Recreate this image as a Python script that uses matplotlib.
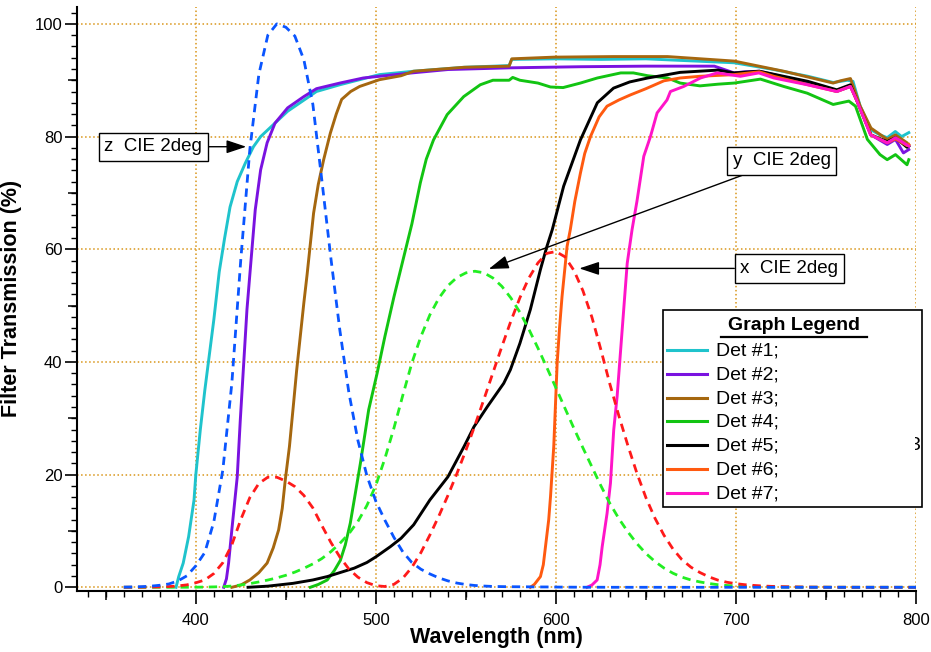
import numpy as np
import matplotlib
matplotlib.use("Agg")
import matplotlib.pyplot as plt
from matplotlib.lines import Line2D
from matplotlib.patches import Rectangle
from matplotlib.ticker import MultipleLocator, FixedLocator

plt.rcParams['font.family'] = ['Liberation Sans', 'DejaVu Sans']

# CIE 1931 2deg colour matching functions, scaled so z peak = 100
cie_wl = list(range(360, 805, 5))
cie_x = [0.01, 0.01, 0.02, 0.04, 0.08, 0.13, 0.24, 0.43, 0.80, 1.30,
         2.44, 4.36, 7.54, 12.05, 15.93, 18.43, 19.54, 19.53, 18.86, 17.88,
         16.31, 14.09, 10.96, 7.97, 5.37, 3.25, 1.80, 0.83, 0.28, 0.14,
         0.52, 1.63, 3.55, 6.15, 9.28, 12.66, 16.29, 20.18, 24.32, 28.73,
         33.35, 38.06, 42.75, 47.26, 51.40, 54.90, 57.57, 59.28, 59.59, 58.66,
         56.24, 52.64, 47.93, 42.15, 36.04, 30.40, 25.13, 20.24, 15.90, 12.27,
         9.25, 6.80, 4.90, 3.57, 2.62, 1.85, 1.27, 0.89, 0.64, 0.46,
         0.33, 0.23, 0.16, 0.12, 0.08, 0.06, 0.04, 0.03, 0.02, 0.01,
         0.01, 0.01, 0.0, 0.0, 0.0, 0.0, 0.0, 0.0, 0.0]
cie_y = [0.0, 0.0, 0.0, 0.0, 0.0, 0.0, 0.01, 0.01, 0.02, 0.04,
         0.07, 0.12, 0.22, 0.41, 0.65, 0.95, 1.29, 1.67, 2.13, 2.69,
         3.37, 4.15, 5.10, 6.32, 7.80, 9.50, 11.67, 14.51, 18.12, 22.85,
         28.22, 34.12, 39.83, 44.50, 48.36, 51.32, 53.52, 54.99, 55.81, 56.10,
         55.82, 54.90, 53.41, 51.35, 48.81, 45.79, 42.47, 38.98, 35.40, 31.80,
         28.22, 24.75, 21.37, 18.01, 14.87, 12.17, 9.82, 7.75, 6.00, 4.58,
         3.42, 2.50, 1.80, 1.30, 0.95, 0.67, 0.46, 0.32, 0.23, 0.16,
         0.12, 0.08, 0.06, 0.04, 0.03, 0.02, 0.01, 0.01, 0.01, 0.0,
         0.0, 0.0, 0.0, 0.0, 0.0, 0.0, 0.0, 0.0, 0.0]
cie_z = [0.03, 0.06, 0.11, 0.20, 0.36, 0.59, 1.12, 2.03, 3.81, 6.18,
         11.63, 20.83, 36.22, 58.29, 77.73, 91.04, 98.01, 100.0, 99.41, 97.84,
         93.64, 85.72, 72.23, 58.45, 45.61, 34.57, 26.10, 19.82, 15.26, 11.91,
         8.87, 6.27, 4.39, 3.21, 2.37, 1.67, 1.14, 0.75, 0.49, 0.32,
         0.22, 0.15, 0.12, 0.10, 0.09, 0.08, 0.06, 0.06, 0.04, 0.03,
         0.02, 0.01, 0.01, 0.01, 0.0, 0.0, 0.0, 0.0, 0.0, 0.0,
         0.0, 0.0, 0.0, 0.0, 0.0, 0.0, 0.0, 0.0, 0.0, 0.0,
         0.0, 0.0, 0.0, 0.0, 0.0, 0.0, 0.0, 0.0, 0.0, 0.0,
         0.0, 0.0, 0.0, 0.0, 0.0, 0.0, 0.0, 0.0, 0.0]

# detector filter transmission curves
det1_wl = [389, 390.5, 393, 396, 399, 400, 402.5, 405, 407, 410, 413, 416, 419, 423, 427.5,
           432, 436, 443, 451, 462, 467, 480, 491, 502, 521, 549, 574, 575.5, 600, 625,
           650, 671, 699, 721, 740, 754, 758, 762, 765, 769, 775, 780, 784, 788.5, 792, 796]
det1_t = [0, 1.9, 4.3, 9.0, 15.5, 20.0, 28.0, 35.0, 40.0, 47.5, 56.0, 62.0, 67.5, 72.0, 75.3,
          78.2, 80.0, 82.1, 84.5, 86.9, 88.0, 89.2, 90.1, 91.0, 91.6, 92.3, 92.6, 93.7, 93.8, 93.7,
          93.8, 93.5, 93.1, 91.9, 90.7, 89.6, 89.8, 90.0, 89.8, 85.4, 81.2, 80.3, 79.8, 80.9, 80.0, 80.7]

det2_wl = [415.5, 417, 418.2, 420, 423, 424.7, 426.6, 428.4, 430, 433, 436, 439.6, 444, 451, 460,
           467, 480, 493, 520, 540, 574, 614, 650, 669, 688, 699, 705, 713, 721, 740,
           756, 763.6, 767, 775, 784, 788.6, 793, 796]
det2_t = [0, 1.5, 4.3, 10.2, 19.6, 29.7, 39.8, 49.3, 55.5, 67.0, 74.1, 78.9, 82.4, 85.1, 87.1,
          88.5, 89.5, 90.4, 91.3, 91.9, 92.2, 92.4, 92.5, 92.5, 92.5, 91.3, 91.5, 91.6, 91.0, 89.5,
          88.0, 88.9, 86.5, 80.3, 78.6, 79.5, 77.1, 77.7]

det3_wl = [420, 425, 430, 435, 439.6, 443, 446, 448, 449.7, 452, 454.3, 456, 458, 460, 461.8,
           465.4, 468, 471, 474.7, 478, 481, 486, 491, 502, 514, 521, 549, 574, 575.5, 599,
           632, 662, 699, 726.5, 754, 758, 763.6, 769, 775, 784, 788.6, 795, 796]
det3_t = [0, 0.4, 1.3, 2.6, 4.3, 7.0, 10.2, 14.0, 19.1, 25.0, 32.7, 38.5, 44.5, 50.5, 55.5,
          66.4, 71.5, 75.9, 80.6, 84.0, 86.6, 88.0, 88.9, 90.1, 90.8, 91.6, 92.3, 92.5, 93.8, 94.1,
          94.2, 94.2, 93.4, 91.6, 89.5, 89.9, 90.3, 85.4, 81.5, 79.5, 80.3, 78.9, 78.5]

det4_wl = [463.6, 468, 473, 477, 480.3, 483, 485.8, 488.5, 491.4, 496, 500.7, 505, 510, 515, 520,
           524.7, 528, 532, 539.6, 548.8, 558, 565, 574, 576, 580, 590, 597, 604, 613.6, 623,
           636, 643, 651, 662, 669, 680, 690, 699, 713.6, 726.5, 739.6, 754, 762.7, 766.4, 773,
           780, 784, 788.6, 795, 796]
det4_t = [0, 0.5, 1.3, 3.0, 4.8, 7.5, 11.4, 16.5, 22.0, 31.5, 38.0, 44.5, 51.5, 58.0, 64.5,
          71.8, 76.0, 79.4, 83.9, 87.1, 89.2, 90.0, 90.0, 90.5, 90.0, 89.5, 88.8, 88.7, 89.5, 90.4,
          91.3, 91.3, 90.8, 90.4, 89.5, 89.0, 89.3, 89.5, 90.2, 88.9, 87.7, 85.7, 86.3, 85.4, 79.5,
          76.8, 75.9, 76.8, 75.0, 75.9]

det5_wl = [429, 440, 454, 465, 473, 480, 488, 495, 500, 508, 514, 521, 530, 540, 549,
           554.5, 562, 571, 574.7, 580, 585.8, 591.4, 595, 598, 604.3, 613.6, 623, 632, 641, 651,
           662, 669, 690, 699, 713, 740, 756, 763.6, 767, 775, 784, 788.6, 795, 796]
det5_t = [0, 0.2, 0.7, 1.3, 1.9, 2.6, 3.4, 4.4, 5.4, 7.2, 8.7, 11.1, 15.5, 19.6, 25.0,
          28.5, 32.1, 36.2, 38.6, 43.3, 49.3, 56.4, 60.5, 63.5, 71.2, 79.4, 86.0, 88.6, 89.7, 90.4,
          91.0, 91.4, 91.8, 91.3, 91.6, 89.8, 88.3, 89.2, 86.5, 80.3, 79.1, 79.8, 78.1, 78.3]

det6_wl = [585.8, 588, 591.4, 593, 594.2, 596, 597, 598.8, 600.7, 602, 603.4, 606.2, 608, 610.5, 613.6,
           616, 619.2, 624, 628.4, 635, 641.4, 650, 660, 669, 680, 699, 713, 721, 740, 756,
           763.6, 767, 775, 784, 788.6, 795, 796]
det6_t = [0, 0.5, 1.9, 4.0, 7.2, 12.0, 16.1, 25.0, 39.8, 46.0, 51.6, 60.5, 63.5, 68.5, 73.5,
          77.0, 80.0, 83.5, 85.4, 86.5, 87.4, 88.5, 89.9, 90.4, 90.7, 91.0, 91.5, 90.7, 89.2, 88.0,
          88.9, 86.5, 80.3, 78.9, 79.6, 78.4, 78.6]

det7_wl = [617.3, 620, 622.9, 624.5, 625.7, 628.4, 630.3, 632.1, 634, 636.8, 639.6, 642.3, 645, 648.8, 652.5,
           656.2, 661.7, 663.6, 671, 680.3, 689.6, 702.5, 712.7, 721, 739.6, 756, 763.6, 767, 774.7, 784,
           788.6, 796]
det7_t = [0, 0.4, 1.3, 4.0, 7.2, 13.1, 18.5, 27.9, 33.9, 45.7, 57.5, 63.5, 68.5, 76.5, 80.0,
          84.2, 86.5, 88.0, 88.9, 90.4, 91.3, 90.7, 91.3, 90.4, 89.2, 88.0, 88.9, 86.5, 80.3, 78.9,
          79.8, 78.3]

det_labels = ['Det #1;', 'Det #2;', 'Det #3;', 'Det #4;', 'Det #5;', 'Det #6;', 'Det #7;']
det_colors = ['#1fc3cc', '#7a12e0', '#a5670f', '#12c412', '#000000', '#ff5a10', '#ff14c8']

W, H = 931, 652
fig = plt.figure(figsize=(W / 100, H / 100), dpi=100)
ax = fig.add_axes([77 / W, (H - 590.5) / H, (916 - 77) / W, 583.5 / H])

dets = [(det1_wl, det1_t), (det2_wl, det2_t), (det3_wl, det3_t), (det4_wl, det4_t),
        (det5_wl, det5_t), (det6_wl, det6_t), (det7_wl, det7_t)]
for (wl, t), c in zip(dets, det_colors):
    ax.plot(wl, t, color=c, lw=2.1, solid_joinstyle='round', zorder=3)

dash = (0, (3, 2.1))
ax.plot(cie_wl, cie_y, color='#22ee22', lw=2.0, ls=dash, zorder=4)
ax.plot(cie_wl, cie_x, color='#ff1a1a', lw=2.0, ls=dash, zorder=4)
ax.plot(cie_wl, cie_z, color='#0a55ff', lw=2.0, ls=dash, zorder=4)

ax.set_xlim(334, 800)
ax.set_ylim(-0.57, 103)

for s in ['top', 'right']:
    ax.spines[s].set_visible(False)
for s in ['left', 'bottom']:
    ax.spines[s].set_linewidth(1.5)

ax.xaxis.set_major_locator(MultipleLocator(100))
ax.xaxis.set_minor_locator(MultipleLocator(10))
ax.yaxis.set_major_locator(MultipleLocator(20))
ax.yaxis.set_minor_locator(MultipleLocator(2))
ax.tick_params(axis='x', which='major', length=9, width=1.2, labelsize=12, pad=7.5)
ax.tick_params(axis='y', which='major', length=9, width=1.2, labelsize=12, pad=1.5)
ax.tick_params(which='minor', length=4, width=1.0)

secx = ax.secondary_xaxis('bottom')
secx.xaxis.set_major_locator(FixedLocator([350, 450, 550, 650, 750]))
secx.tick_params(length=6.5, width=1.1, labelbottom=False)
secx.spines['bottom'].set_visible(False)
secy = ax.secondary_yaxis('left')
secy.yaxis.set_major_locator(FixedLocator([10, 30, 50, 70, 90]))
secy.tick_params(length=6.5, width=1.1, labelleft=False)
secy.spines['left'].set_visible(False)

ax.grid(True, which='major', color='#d9961a', ls=':', lw=1.1, zorder=0)
ax.set_axisbelow(True)

ax.set_xlabel('Wavelength (nm)', fontsize=15.5, fontweight='bold', labelpad=-1)
ax.set_ylabel('Filter Transmission (%)', fontsize=15.5, fontweight='bold', labelpad=9)

box = dict(boxstyle='square,pad=0.3', fc='white', ec='black', lw=1)
arrow = dict(arrowstyle='-|>,head_length=0.9,head_width=0.3', color='black', lw=1,
             shrinkA=0, shrinkB=0)
ax.annotate('z  CIE 2deg', xy=(428, 78.2), xytext=(376.4, 78.2), fontsize=13.5,
            ha='center', va='center', bbox=box, arrowprops=arrow, zorder=6)
ax.annotate('y  CIE 2deg', xy=(562.7, 56.5), xytext=(725.3, 75.7), fontsize=13.5,
            ha='center', va='center', bbox=box, arrowprops=arrow, zorder=6)
ax.annotate('x  CIE 2deg', xy=(613, 56.6), xytext=(729.7, 56.6), fontsize=13.5,
            ha='center', va='center', bbox=box, arrowprops=arrow, zorder=6)


def fx(px):
    return px / W


def fy(py):
    return 1 - py / H


fig.patches.append(Rectangle((fx(663), fy(507)), fx(922) - fx(663), fy(310) - fy(507),
                             transform=fig.transFigure, fc='white', ec='black', lw=1.2, zorder=10))
fig.text(fx(794), fy(325), 'Graph Legend', fontsize=14, fontweight='bold',
         ha='center', va='center', zorder=11)
fig.lines.append(Line2D([fx(721), fx(867)], [fy(336.5), fy(336.5)], transform=fig.transFigure,
                        color='black', lw=1.6, zorder=11))
for i, (lab, c) in enumerate(zip(det_labels, det_colors)):
    yy = 350 + i * 23.8
    fig.lines.append(Line2D([fx(667), fx(707)], [fy(yy), fy(yy)], transform=fig.transFigure,
                            color=c, lw=2.2, zorder=11))
    fig.text(fx(716), fy(yy + 1), lab, fontsize=14, ha='left', va='center', zorder=11)
# partly erased character at the right edge of the legend
fig.text(fx(909), fy(445), '3', fontsize=14, ha='left', va='center', zorder=11)
fig.patches.append(Rectangle((fx(905), fy(455)), fx(915) - fx(905), fy(435) - fy(455),
                             transform=fig.transFigure, fc='white', ec='none', zorder=12))

fig.savefig('out.png', dpi=100)
